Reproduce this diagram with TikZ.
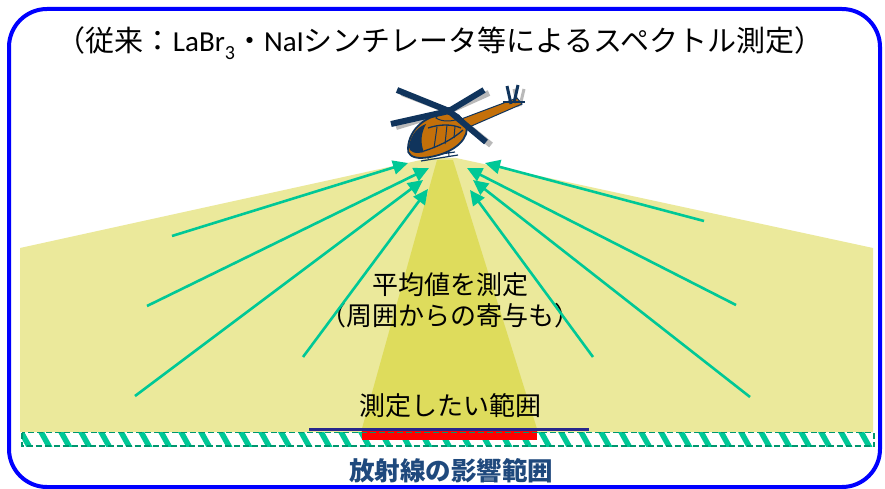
\documentclass[tikz,border=0pt]{standalone}
\usepackage{fontspec}
\usetikzlibrary{arrows.meta}
\newfontfamily\jp{Noto Sans CJK JP}
\newfontfamily\lat{Carlito}
\definecolor{framecol}{RGB}{0,0,255}
\definecolor{lightbeam}{RGB}{235,233,155}
\definecolor{darkbeam}{RGB}{222,220,92}
\definecolor{ray}{RGB}{0,200,150}
\definecolor{hatchcol}{RGB}{0,200,150}
\definecolor{hatchedge}{RGB}{0,150,110}
\definecolor{groundline}{RGB}{40,40,140}
\definecolor{hotspot}{RGB}{255,0,0}
\definecolor{labelblue}{RGB}{31,73,125}
\definecolor{heliblue}{RGB}{16,52,92}
\definecolor{heliorange}{RGB}{196,112,10}
\definecolor{helishadow}{RGB}{185,185,185}
\newcommand{\lowthree}{\raisebox{-0.28em}{\fontsize{20}{20}\selectfont 3}}
\tikzset{
  rayarrow/.style={draw=ray, line width=2.6pt, -{Triangle[length=15pt,width=14pt]}},
  bodytext/.style={font=\jp\fontsize{26}{31}\selectfont, text=black, align=center},
  blade/.style={draw=heliblue, line width=6pt},
  bladeshadow/.style={draw=helishadow, line width=6pt},
}
\begin{document}
\begin{tikzpicture}[x=1pt,y=-1pt]
\useasboundingbox (0,0) rectangle (885,489);
\fill[white] (0,0) rectangle (885,489);

% field of view of the detector
\fill[lightbeam] (20,248) -- (430,158) -- (456,158) -- (873,248) -- (873,432) -- (20,432) -- cycle;
\fill[darkbeam] (437,160) -- (453,160) -- (538,432) -- (361,432) -- cycle;

% ground strip with hatching
\begin{scope}
  \clip (22,432) rectangle (874,446);
  \foreach \x in {0,20,...,880}
    \draw[hatchcol, line width=5.5pt] (\x,430) -- (\x+10,448);
\end{scope}
\fill[hotspot] (362,429) rectangle (537,440);
\draw[groundline, line width=2.6pt] (309,429.5) -- (589,429.5);
\draw[hatchedge, line width=1.6pt, dash pattern=on 6pt off 3pt] (22,432.5) rectangle (874,446);

% labels
\node[bodytext] (avg) at (450,300) {平均値を測定\\（周囲からの寄与も）};
\node[bodytext] (target) at (450,406) {測定したい範囲};
\node[font=\jp\bfseries\fontsize{25.5}{30}\selectfont, text=labelblue] (effect) at (451,471) {放射線の影響範囲};
\node[font=\jp\fontsize{29}{34}\selectfont, text=black] (title) at (440,43)
  {（従来：{\lat LaBr\lowthree}・{\lat NaI}シンチレータ等によるスペクトル測定）};

% incoming radiation
\coordinate (l1s) at (172,236); \coordinate (l1t) at (408,163);
\coordinate (l2s) at (147,306); \coordinate (l2t) at (429,168);
\coordinate (l3s) at (135,396); \coordinate (l3t) at (423,180);
\coordinate (l4s) at (303,357); \coordinate (l4t) at (428,189);
\coordinate (r1s) at (704,221); \coordinate (r1t) at (485,163);
\coordinate (r2s) at (736,305); \coordinate (r2t) at (467,168);
\coordinate (r3s) at (750,397); \coordinate (r3t) at (473,180);
\coordinate (r4s) at (593,357); \coordinate (r4t) at (470,190);
\foreach \a in {l1,l2,l3,l4,r1,r2,r3,r4}
  \draw[rayarrow] (\a s) -- (\a t);

% helicopter
\begin{scope}
  \coordinate (hub) at (449,111);
  % rotor shadows
  \begin{scope}[shift={(5,3)}]
    \draw[bladeshadow] (397,90) -- (hub) -- (484,90);
    \draw[bladeshadow] (391,124) -- (hub) -- (486,142);
    \draw[helishadow, line width=3pt] (509,86) -- (513,104);
    \draw[helishadow, line width=3pt] (519,86) -- (515,103);
  \end{scope}
  % tail boom
  \draw[heliblue, fill=heliorange, line width=1pt] (456,121) -- (517,98) -- (522,104) -- (460,131) -- cycle;
  % tail fins
  \draw[heliblue, line width=3pt] (507,86) -- (511,104);
  \draw[heliblue, line width=3pt] (518,85) -- (514,103);
  \draw[heliblue, line width=2pt] (503,102) -- (525,102);
  % skids
  \draw[heliblue, line width=1.2pt] (420,157) -- (455,152) (421,161) -- (458,155);
  \draw[heliblue, line width=1pt] (428,150) -- (428,159) (448,147) -- (449,156);
  % fuselage
  \draw[heliblue, fill=heliorange, line width=1.8pt]
    (408,148) .. controls (409,128) and (428,114) .. (447,114)
    .. controls (462,114) and (469,124) .. (466,134)
    .. controls (461,148) and (441,157) .. (421,158)
    .. controls (412,158) and (407,154) .. (408,148) -- cycle;
  % nose glazing
  \fill[heliblue] (409,146) .. controls (411,134) and (418,127) .. (426,124)
    .. controls (421,133) and (420,143) .. (424,152)
    .. controls (416,154) and (409,153) .. (409,146) -- cycle;
  % cabin windows
  \draw[heliblue, line width=1.3pt] (424,151) .. controls (437,147) and (452,140) .. (463,130);
  \draw[heliblue, line width=1.3pt] (428,128) .. controls (440,124) and (452,124) .. (461,128);
  \draw[heliblue, line width=1pt] (437,127) -- (434,148) (447,125) -- (445,144) (455,126) -- (454,138);
  % engine cowling
  \draw[heliblue, fill=heliorange, line width=1pt] (436,118) .. controls (438,110) and (458,110) .. (461,118) .. controls (452,122) and (442,122) .. (436,118) -- cycle;
  % main rotor
  \draw[blade] (397,90) -- (hub) -- (484,90);
  \draw[blade] (391,124) -- (hub) -- (486,142);
  \fill[heliblue] (hub) circle (4pt);
\end{scope}

% frame
\draw[framecol, line width=4pt, rounded corners=38pt] (9,9) rectangle (880,487);
\end{tikzpicture}
\end{document}
